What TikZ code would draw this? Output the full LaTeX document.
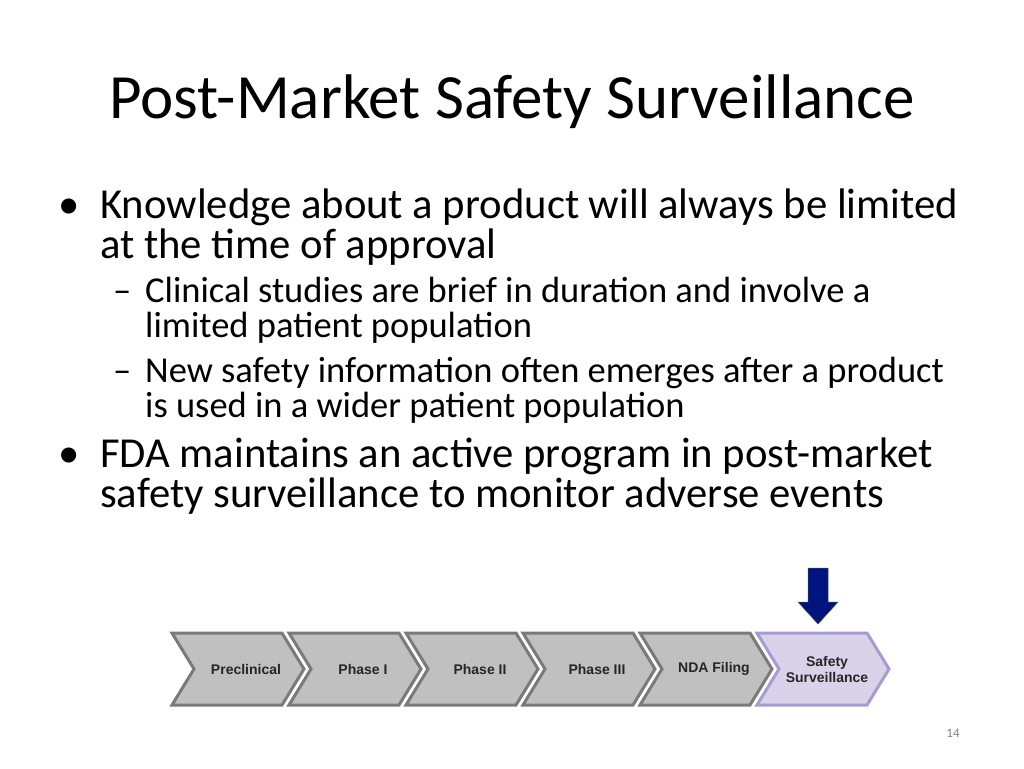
\documentclass[tikz,border=0pt]{standalone}
\usepackage{fontspec}
\setmainfont{Carlito}
\newfontfamily\arialf{Liberation Sans}
\definecolor{chevfill}{HTML}{C0C0C0}
\definecolor{chevline}{HTML}{7A7A7A}
\definecolor{sfill}{HTML}{D9D2E9}
\definecolor{sline}{HTML}{A99BCF}
\definecolor{arrowblue}{HTML}{001480}
\begin{document}
\begin{tikzpicture}[x=1pt,y=-1pt,
  lone/.style={anchor=base west,inner sep=0pt,font=\fontsize{42.7}{42}\selectfont},
  ltwo/.style={anchor=base west,inner sep=0pt,font=\fontsize{36.5}{36}\selectfont},
  chev/.style={fill=chevfill,draw=chevline,line width=3pt,line join=miter},
  chevs/.style={fill=sfill,draw=sline,line width=3pt,line join=miter},
  clab/.style={font=\arialf\bfseries\fontsize{14}{16}\selectfont,align=center,text=black!85}]
\useasboundingbox (0,0) rectangle (1024,768);
\node[anchor=base,inner sep=0pt,font=\fontsize{63}{63}\selectfont] (title) at (512,118) {Post-Market Safety Surveillance};
\node[lone] (b1) at (58,218) {•};
\node[lone] (l1) at (100,218) {Knowledge about a product will always be limited};
\node[lone] (l2) at (100,258) {at the time of approval};
\node[ltwo] (d1) at (113,302) {–};
\node[ltwo] (l3) at (145,302) {Clinical studies are brief in duration and involve a};
\node[ltwo] (l4) at (145,337) {limited patient population};
\node[ltwo] (d2) at (113,382) {–};
\node[ltwo] (l5) at (145,382) {New safety information often emerges after a product};
\node[ltwo] (l6) at (145,417) {is used in a wider patient population};
\node[lone] (b2) at (58,467) {•};
\node[lone] (l7) at (100,467) {FDA maintains an active program in post-market};
\node[lone] (l8) at (100,507) {safety surveillance to monitor adverse events};
\foreach \i/\t in {0/Preclinical,1/Phase I,2/Phase II,3/Phase III,4/NDA Filing}{
  \pgfmathsetmacro\s{172+117*\i}
  \draw[chev] (\s,633) -- (\s+110,633) -- (\s+132,669) -- (\s+110,705) -- (\s,705) -- (\s+22,669) -- cycle;
  \node[clab] (c\i) at (\s+74,669) {\t};
}
\pgfmathsetmacro\s{172+117*5}
\draw[chevs] (\s,633) -- (\s+110,633) -- (\s+132,669) -- (\s+110,705) -- (\s,705) -- (\s+22,669) -- cycle;
\node[clab] (c5) at (\s+70,669) {Safety\\Surveillance};
\fill[fill=arrowblue,draw=black!70,line width=0.5pt] (808,568) -- (828,568) -- (828,602) -- (838,602) -- (818,624) -- (798,602) -- (808,602) -- cycle;
\node[font=\fontsize{13}{13}\selectfont,text=gray] (pg) at (953,733) {14};
\end{tikzpicture}
\end{document}
